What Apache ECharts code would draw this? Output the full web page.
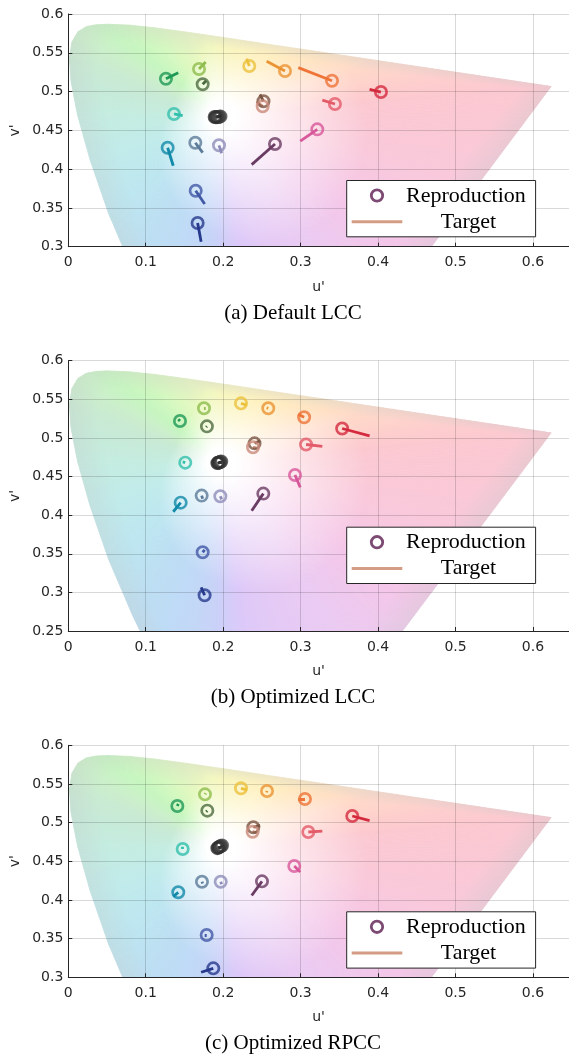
<!DOCTYPE html>
<html><head><meta charset="utf-8">
<script src="https://cdn.jsdelivr.net/npm/echarts@6/dist/echarts.min.js"></script>
<style>html,body{margin:0;padding:0;background:#fff}#c{width:569px;height:1057px}</style>
</head><body><div id="c"></div><script>
// ---------------- data ----------------
const patchNames = ['Dark skin','Light skin','Blue sky','Foliage','Blue flower','Bluish green','Orange','Purplish blue','Moderate red','Purple','Yellow green','Orange yellow','Blue','Green','Red','Yellow','Magenta','Cyan','White','Neutral 8','Neutral 6.5','Neutral 5','Neutral 3.5','Black'];
const patchColors = ['#7a5544','#c98a7b','#5b7b99','#4d6b40','#8e8cb9','#33bfad','#ee7438','#4259a6','#e35a69','#6a3b63','#8fbd4e','#eb9434','#27398c','#1f9956','#d42a3e','#ecc13c','#d8589b','#128aa9','#4c4c4c','#464646','#414141','#3c3c3c','#363636','#303030'];
const targetU = [0.2475,0.2430,0.1735,0.1780,0.1980,0.1477,0.2970,0.1761,0.3280,0.2368,0.1774,0.2561,0.1715,0.1420,0.3890,0.2303,0.2995,0.1355,0.1978,0.1978,0.1978,0.1978,0.1978,0.1978];
const targetV = [0.4965,0.4870,0.4212,0.5140,0.4204,0.4689,0.5308,0.3550,0.4890,0.4058,0.5381,0.5390,0.3065,0.5243,0.5027,0.5424,0.4360,0.4044,0.4683,0.4683,0.4683,0.4683,0.4683,0.4683];
const reproAU = [0.2520,0.2510,0.1640,0.1735,0.1946,0.1365,0.3405,0.1645,0.3443,0.2669,0.1688,0.2798,0.1670,0.1261,0.4037,0.2337,0.3215,0.1283,0.1965,0.1950,0.1935,0.1920,0.1905,0.1890];
const reproAV = [0.4875,0.4810,0.4340,0.5094,0.4307,0.4711,0.5140,0.3722,0.4840,0.4324,0.5290,0.5265,0.3305,0.5166,0.4994,0.5330,0.4513,0.4276,0.4680,0.4675,0.4672,0.4670,0.4670,0.4672];
const reproBU = [0.2405,0.2385,0.1722,0.1790,0.1963,0.1510,0.3045,0.1735,0.3070,0.2518,0.1752,0.2582,0.1760,0.1442,0.3536,0.2230,0.2927,0.1451,0.1975,0.1965,0.1955,0.1945,0.1935,0.1925];
const reproBV = [0.4930,0.4879,0.4253,0.5150,0.4245,0.4680,0.5268,0.3520,0.4915,0.4279,0.5384,0.5384,0.2963,0.5220,0.5122,0.5448,0.4520,0.4162,0.4695,0.4690,0.4686,0.4682,0.4678,0.4674];
const reproCU = [0.2389,0.2380,0.1726,0.1795,0.1968,0.1477,0.3056,0.1787,0.3099,0.2501,0.1765,0.2566,0.1872,0.1408,0.3667,0.2230,0.2918,0.1420,0.1985,0.1972,0.1960,0.1948,0.1936,0.1925];
const reproCV = [0.4940,0.4883,0.4236,0.5155,0.4236,0.4659,0.5306,0.3547,0.4879,0.4241,0.5366,0.5409,0.3116,0.5215,0.5086,0.5444,0.4439,0.4099,0.4705,0.4698,0.4690,0.4684,0.4677,0.4670];
const panelTitles = ['(a) Default LCC','(b) Optimized LCC','(c) Optimized RPCC'];
const legendLabels = ['Reproduction','Target'];
const axisNames = ["u'","v'"];
// CIE 1931 spectral locus in u'v'
const locusNm = [380,450,460,470,475,480,485,490,495,500,505,510,515,520,525,530,540,550,560,570,580,590,600,620,700];
const locusU = [0.2568,0.2161,0.1877,0.1441,0.1147,0.0828,0.0521,0.0282,0.0119,0.0035,0.0014,0.0046,0.0123,0.0231,0.0360,0.0501,0.0792,0.1127,0.1531,0.2026,0.2623,0.3315,0.4035,0.5203,0.6234];
const locusV = [0.0166,0.0549,0.0871,0.1510,0.2044,0.2708,0.3427,0.4117,0.4698,0.5131,0.5432,0.5638,0.5770,0.5837,0.5861,0.5868,0.5856,0.5821,0.5766,0.5694,0.5604,0.5501,0.5393,0.5219,0.5065];
const whitePoint = [0.1978, 0.4683];

// ---------------- style ----------------
const locusTint = ['#dcc8f8','#d4ccf8','#cad0f8','#c2d6f6','#bedaf6','#bcdef2','#bce6f0','#c0ebea','#c4ece0','#c6ead8','#c8ead2','#caedcc','#caf0c8','#c8f2c4','#c6f4c0','#c6f5bf','#ccf7be','#d8f8bf','#e8f8c0','#f8f6c0','#fff0c0','#ffe4c2','#ffd8c8','#fdcdcd','#fbc8d0'];
const purpleTint = [[0,'#fbc8d0'],[0.25,'#f9c8da'],[0.45,'#f4c6e8'],[0.65,'#eacaf2'],[1,'#dcc8f8']];
const tickFont = '"DejaVu Sans", sans-serif';
const serifFont = '"Liberation Serif", "Times New Roman", serif';
const axisColor = '#262626';
const GL = 68.3, GW = 503.4;
const layout = [
  {top: 14, height: 232.7, ymin: 0.3},
  {top: 360.7, height: 270.3, ymin: 0.25},
  {top: 745.3, height: 232, ymin: 0.3}
];
const reproU = [reproAU, reproBU, reproCU];
const reproV = [reproAV, reproBV, reproCV];

function hex2rgb(h){h=h.replace('#','');return [parseInt(h.slice(0,2),16),parseInt(h.slice(2,4),16),parseInt(h.slice(4,6),16)];}
function mixHex(a,b,t){const A=hex2rgb(a),B=hex2rgb(b);return '#'+A.map((x,i)=>Math.max(0,Math.min(255,Math.round(x+(B[i]-x)*t))).toString(16).padStart(2,'0')).join('');}
function tintAlong(t){
  for(let i=0;i<purpleTint.length-1;i++){
    const a=purpleTint[i],b=purpleTint[i+1];
    if(t<=b[0]) return mixHex(a[1],b[1],(t-a[0])/(b[0]-a[0]));
  }
  return purpleTint[purpleTint.length-1][1];
}
// distance (px) from the white point at which the tint reaches full strength, by direction
function vividPx(dx,dy,len){ return 100 + 45*dx/len + 22*dy/len; }
function gradStops(c,len,vp){
  const e = mixHex(c,'#c4c9c9',0.3);
  const o1 = Math.min(14/len,0.2);
  const o2 = Math.min(Math.max(vp/len,o1+0.1),0.85);
  const o3 = Math.min(Math.max(o2+0.01,1-30/len),0.99);
  return [{offset:0,color:'#ffffff'},{offset:o1,color:'#ffffff'},{offset:o2,color:c},{offset:o3,color:c},{offset:1,color:e}];
}
function renderGamut(params, api){
  const cs = params.coordSys;
  const W = api.coord(whitePoint);
  const pts = locusU.map((u,i)=>api.coord([u,locusV[i]]));
  const children = [];
  function tri(p1,p2,c){
    const m=[(p1[0]+p2[0])/2,(p1[1]+p2[1])/2];
    const dx=m[0]-W[0], dy=m[1]-W[1];
    const len=Math.hypot(dx,dy);
    const g=new echarts.graphic.LinearGradient(W[0],W[1],m[0],m[1],gradStops(c,len,vividPx(dx,dy,len)),true);
    children.push({type:'polygon',shape:{points:[W,p1,p2]},style:{fill:g,stroke:g,lineWidth:0.8}});
  }
  // edge pieces subdivided to a few pixels each so neighbouring colours blend smoothly
  function edge(a,b,colorAt){
    const n=Math.max(1,Math.ceil(Math.hypot(b[0]-a[0],b[1]-a[1])/3));
    for(let k=0;k<n;k++){
      const t0=k/n,t1=(k+1)/n,tm=(t0+t1)/2;
      const p1=[a[0]+(b[0]-a[0])*t0,a[1]+(b[1]-a[1])*t0];
      const p2=[a[0]+(b[0]-a[0])*t1,a[1]+(b[1]-a[1])*t1];
      tri(p1,p2,colorAt(tm));
    }
  }
  for(let i=0;i<pts.length-1;i++) edge(pts[i],pts[i+1],t=>mixHex(locusTint[i],locusTint[i+1],t));
  edge(pts[pts.length-1],pts[0],tintAlong);
  return {type:'group',children,clipPath:{type:'rect',shape:{x:cs.x,y:cs.y,width:cs.width,height:cs.height}}};
}

const grids=[],xAxes=[],yAxes=[],series=[],graphics=[];
layout.forEach((L,p)=>{
  grids.push({left:GL,top:L.top,width:GW,height:L.height,outerBoundsMode:'none',containLabel:false});
  xAxes.push({type:'value',gridIndex:p,min:0,max:0.65,interval:0.1,
    axisLine:{show:true,onZero:false,lineStyle:{color:axisColor,width:1}},
    axisTick:{show:true,inside:true,length:4,lineStyle:{color:axisColor}},
    axisLabel:{show:true,showMaxLabel:false,margin:9,fontFamily:tickFont,fontSize:14,color:axisColor},
    splitLine:{show:true,lineStyle:{color:'rgba(0,0,0,0.15)',width:1}}});
  yAxes.push({type:'value',gridIndex:p,min:L.ymin,max:0.6,interval:0.05,
    axisLine:{show:true,onZero:false,lineStyle:{color:axisColor,width:1}},
    axisTick:{show:true,inside:true,length:4,lineStyle:{color:axisColor}},
    axisLabel:{show:true,margin:5,fontFamily:tickFont,fontSize:14,color:axisColor},
    splitLine:{show:true,lineStyle:{color:'rgba(0,0,0,0.15)',width:1}}});
  series.push({type:'custom',name:'gamut',xAxisIndex:p,yAxisIndex:p,z:-1,silent:true,clip:true,
    data:[whitePoint],renderItem:renderGamut});
  const ru=reproU[p], rv=reproV[p];
  series.push({type:'lines',name:legendLabels[1],coordinateSystem:'cartesian2d',xAxisIndex:p,yAxisIndex:p,z:3,silent:true,
    lineStyle:{width:2.8,opacity:1,curveness:0},
    data:ru.map((u,i)=>({name:patchNames[i],coords:[[u,rv[i]],[targetU[i],targetV[i]]],lineStyle:{color:patchColors[i]}}))});
  series.push({type:'scatter',name:legendLabels[0],xAxisIndex:p,yAxisIndex:p,z:4,silent:true,
    symbol:'circle',symbolSize:11.3,
    data:ru.map((u,i)=>({name:patchNames[i],value:[u,rv[i]],itemStyle:{color:'rgba(0,0,0,0)',borderColor:patchColors[i],borderWidth:2.7}}))});
  const bottom=L.top+L.height;
  graphics.push({type:'text',x:318.5,y:bottom+40.5,z:100,style:{text:axisNames[0],font:'14px '+tickFont,fill:axisColor,textAlign:'center',textVerticalAlign:'middle',align:'center',verticalAlign:'middle'}});
  graphics.push({type:'text',x:15.5,y:L.top+L.height/2,rotation:Math.PI/2,z:100,style:{text:axisNames[1],font:'14px '+tickFont,fill:axisColor,textAlign:'center',textVerticalAlign:'middle',align:'center',verticalAlign:'middle'}});
  graphics.push({type:'text',x:293,y:bottom+66.3,z:100,style:{text:panelTitles[p],font:'21px '+serifFont,fill:'#000',textAlign:'center',textVerticalAlign:'middle',align:'center',verticalAlign:'middle'}});
  const bt=L.top+166.5;
  graphics.push({type:'rect',z:100,shape:{x:346.7,y:bt,width:188.9,height:56.3},style:{fill:'#fff',stroke:axisColor,lineWidth:1}});
  graphics.push({type:'circle',z:101,shape:{cx:377,cy:bt+15,r:5.7},style:{fill:'none',stroke:'#7d4a73',lineWidth:2.8}});
  graphics.push({type:'text',x:406,y:bt+15.5,z:101,style:{text:legendLabels[0],font:'22px '+serifFont,fill:'#000',textAlign:'left',textVerticalAlign:'middle',align:'left',verticalAlign:'middle'}});
  graphics.push({type:'line',z:101,shape:{x1:351.7,y1:bt+41.3,x2:402.3,y2:bt+41.3},style:{stroke:'#d49c84',lineWidth:3}});
  graphics.push({type:'text',x:468.5,y:bt+41.5,z:101,style:{text:legendLabels[1],font:'22px '+serifFont,fill:'#000',textAlign:'center',textVerticalAlign:'middle',align:'center',verticalAlign:'middle'}});
});

const chart = echarts.init(document.getElementById('c'), null, {renderer:'canvas'});
chart.setOption({animation:false,backgroundColor:'#fff',grid:grids,xAxis:xAxes,yAxis:yAxes,series,graphic:graphics});
</script></body></html>
